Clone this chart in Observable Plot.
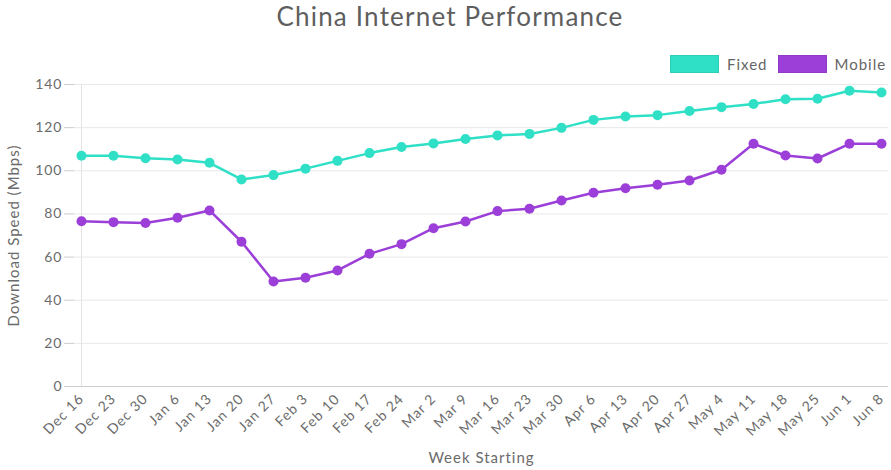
<!DOCTYPE html>
<html><head><meta charset="utf-8">
<script src="https://cdn.jsdelivr.net/npm/d3@7"></script>
<script src="https://cdn.jsdelivr.net/npm/@observablehq/plot@0.6"></script>
<style>
body{margin:0;background:#fff;font-family:Lato,"Open Sans",sans-serif;width:891px;height:470px;overflow:hidden;position:relative}
#title{position:absolute;left:0;top:0px;width:900px;text-align:center;font-size:26px;color:#5e5e5e;letter-spacing:1.2px}
#legend{position:absolute;top:55px;left:670px;display:flex;align-items:center;font-size:15px;color:#666;letter-spacing:1px}
.sw{width:47px;height:16px;margin-right:8px;border:1px solid rgba(0,0,0,0.08)}
#chart{position:absolute;left:0;top:74px}
</style></head><body>
<div id="title">China Internet Performance</div>
<div id="legend"><span class="sw" style="background:#2fe0c6"></span><span style="margin-right:10px">Fixed</span><span class="sw" style="background:#9b3fd8"></span><span>Mobile</span></div>
<div id="chart"></div>
<script>
const weeks = ["Dec 16","Dec 23","Dec 30","Jan 6","Jan 13","Jan 20","Jan 27","Feb 3","Feb 10","Feb 17","Feb 24","Mar 2","Mar 9","Mar 16","Mar 23","Mar 30","Apr 6","Apr 13","Apr 20","Apr 27","May 4","May 11","May 18","May 25","Jun 1","Jun 8"];
const fixed = [107,107,105.8,105.2,103.7,96,98,101,104.6,108.2,111,112.7,114.7,116.4,117.1,119.9,123.6,125.2,125.8,127.7,129.5,131,133.2,133.4,137.1,136.3];
const mobile = [76.6,76.2,75.8,78.2,81.6,67.1,48.7,50.4,53.8,61.5,66,73.4,76.5,81.3,82.4,86.2,89.8,91.9,93.5,95.5,100.5,112.5,107.1,105.7,112.5,112.5];
const yTicks = [0,20,40,60,80,100,120,140];
const seriesNames = ["Fixed","Mobile"];
const colors = ["#2fe0c6","#9b3fd8"];
const yLabel = "Download Speed (Mbps)";
const xLabel = "Week Starting";

const data = [];
weeks.forEach((w,i)=>{ data.push({week:w, series:"Fixed", v:fixed[i]}); data.push({week:w, series:"Mobile", v:mobile[i]}); });

const chart = Plot.plot({
  width: 891, height: 396,
  marginTop: 10, marginBottom: 84, marginLeft: 74, marginRight: 3,
  style: {fontFamily: "Lato, 'Open Sans', sans-serif", fontSize: "14px", color: "#6b6b6b", overflow: "visible", letterSpacing: "1px"},
  x: {type: "point", domain: weeks, padding: 0},
  y: {domain: [0,140]},
  color: {domain: seriesNames, range: colors},
  marks: [
    Plot.gridY(yTicks, {stroke: "#e8e8e8", strokeOpacity: 1}),
    Plot.ruleX([weeks[0]], {stroke: "#e4e4e4"}),
    Plot.ruleY([0], {stroke: "#ccc"}),
    Plot.axisY(yTicks, {tickSize: 10, stroke: "#ccc", tickPadding: 2, fontSize: 14, fill: "#6b6b6b", label: null}),
    Plot.axisX({tickSize: 0, tickRotate: -45, tickPadding: 10, fontSize: 14, fill: "#6b6b6b", label: null}),
    Plot.text([yLabel], {frameAnchor: "left", dx: -60, rotate: -90, textAnchor: "middle", lineAnchor: "middle", fontSize: 15, fill: "#6b6b6b"}),
    Plot.text([xLabel], {frameAnchor: "bottom", dy: 72, textAnchor: "middle", lineAnchor: "middle", fontSize: 15, fill: "#6b6b6b"}),
    Plot.line(data, {x: "week", y: "v", stroke: "series", strokeWidth: 2.5}),
    Plot.dot(data, {x: "week", y: "v", fill: "series", r: 5})
  ]
});
document.getElementById("chart").appendChild(chart);
</script>
</body></html>
